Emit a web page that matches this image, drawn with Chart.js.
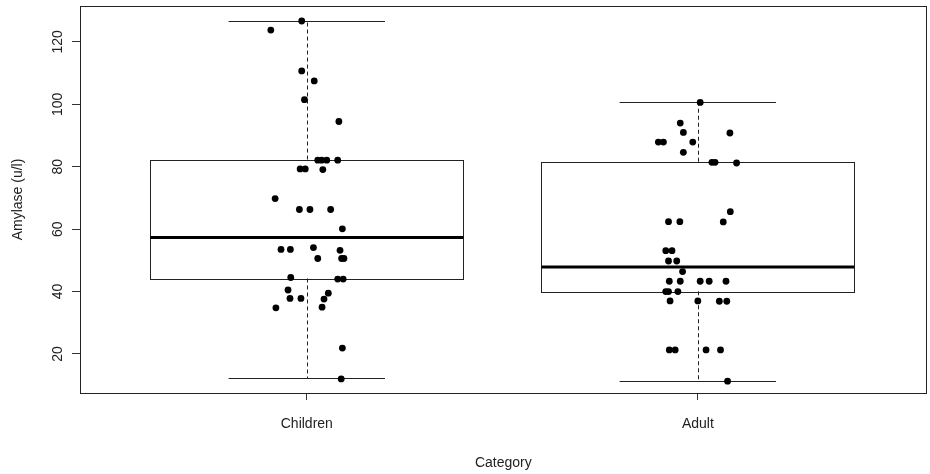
<!DOCTYPE html>
<html>
<head>
<meta charset="utf-8">
<script src="https://cdn.jsdelivr.net/npm/chart.js@4/dist/chart.umd.min.js"></script>
<style>
  html, body { margin: 0; padding: 0; background: #ffffff; }
  #wrap { width: 930px; height: 474px; position: relative; }
</style>
</head>
<body>
<div id="wrap"><canvas id="c" width="930" height="474"></canvas></div>
<script>
// ---- data ----
const categories = ['Children', 'Adult'];
const yTicks = [20, 40, 60, 80, 100, 120];

// box statistics per category
const lowWhiskers  = [12.2, 11.5];
const q1s          = [44.2, 40.1];
const medians      = [57.3, 47.9];
const q3s          = [82.3, 81.6];
const highWhiskers = [126.7, 100.6];

// jittered observations (value, horizontal jitter in category units)
const childrenValues = [126.7, 123.8, 110.7, 107.5, 101.5, 94.5, 82.1, 82.1, 82.1, 82.1,
  79.3, 79.3, 79.1, 69.8, 66.3, 66.3, 66.3, 60.1, 53.5, 53.5, 54.1, 53.2, 50.6, 50.6, 50.6,
  44.5, 44.0, 44.0, 40.5, 39.5, 37.8, 37.8, 37.6, 34.8, 35.0, 21.9, 12.0];
const childrenJitter = [-0.013, -0.092, -0.013, 0.019, -0.006, 0.082, 0.028, 0.038, 0.051, 0.079,
  -0.017, -0.004, 0.041, -0.081, -0.019, 0.008, 0.061, 0.091, -0.066, -0.042, 0.017, 0.085, 0.028, 0.089, 0.095,
  -0.041, 0.079, 0.093, -0.048, 0.055, -0.043, -0.015, 0.044, -0.079, 0.039, 0.091, 0.088];

const adultValues = [100.6, 94.0, 91.0, 90.8, 87.9, 87.9, 87.9, 84.6, 81.4, 81.4, 81.2,
  65.6, 62.4, 62.4, 62.3, 53.1, 53.1, 49.8, 49.8, 46.4, 43.3, 43.3, 43.3, 43.3, 43.3,
  40.0, 40.0, 40.0, 37.0, 37.0, 36.9, 36.9, 21.3, 21.3, 21.3, 21.3, 11.3];
const adultJitter = [0.006, -0.045, -0.037, 0.082, -0.101, -0.088, -0.013, -0.037, 0.036, 0.044, 0.099,
  0.083, -0.075, -0.046, 0.065, -0.082, -0.066, -0.075, -0.054, -0.039, -0.073, -0.045, 0.006, 0.029, 0.072,
  -0.082, -0.075, -0.051, -0.071, 0.000, 0.055, 0.074, -0.073, -0.058, 0.021, 0.058, 0.076];

// ---- build points ----
function toPoints(values, jitter, idx) {
  return values.map((v, k) => ({ x: idx + 1 + jitter[k], y: v }));
}
const allPoints = toPoints(childrenValues, childrenJitter, 0)
  .concat(toPoints(adultValues, adultJitter, 1));

const BOX_HALF = 0.4;
const CAP_HALF = 0.2;
const FONT = "'Liberation Sans', Arial, Helvetica, sans-serif";

const framePlugin = {
  id: 'frame',
  beforeDatasetsDraw(chart) {
    const { ctx, chartArea: a } = chart;
    ctx.save();
    ctx.strokeStyle = '#222';
    ctx.lineWidth = 1;
    ctx.strokeRect(Math.round(a.left) + 0.5, Math.round(a.top) + 0.5,
      Math.round(a.right - a.left) - 1, Math.round(a.bottom - a.top));
    ctx.restore();
  }
};

const boxPlugin = {
  id: 'boxes',
  beforeDatasetsDraw(chart) {
    const { ctx, scales: { x, y } } = chart;
    ctx.save();
    categories.forEach((c, i) => {
      const pos = i + 1;
      const xc = Math.round(x.getPixelForValue(pos)) + 0.5;
      const bl = x.getPixelForValue(pos - BOX_HALF);
      const br = x.getPixelForValue(pos + BOX_HALF);
      const cl = x.getPixelForValue(pos - CAP_HALF);
      const cr = x.getPixelForValue(pos + CAP_HALF);
      const yLo = y.getPixelForValue(lowWhiskers[i]);
      const yQ1 = y.getPixelForValue(q1s[i]);
      const yMed = y.getPixelForValue(medians[i]);
      const yQ3 = y.getPixelForValue(q3s[i]);
      const yHi = y.getPixelForValue(highWhiskers[i]);

      ctx.strokeStyle = '#222';
      ctx.lineWidth = 1;
      // dashed whiskers
      ctx.setLineDash([4, 3]);
      ctx.beginPath();
      ctx.moveTo(xc, yQ3); ctx.lineTo(xc, yHi);
      ctx.moveTo(xc, yQ1); ctx.lineTo(xc, yLo);
      ctx.stroke();
      ctx.setLineDash([]);
      // caps
      ctx.beginPath();
      ctx.moveTo(cl, Math.round(yHi) + 0.5); ctx.lineTo(cr, Math.round(yHi) + 0.5);
      ctx.moveTo(cl, Math.round(yLo) + 0.5); ctx.lineTo(cr, Math.round(yLo) + 0.5);
      ctx.stroke();
      // box
      ctx.strokeRect(Math.round(bl) + 0.5, Math.round(yQ3) + 0.5,
        Math.round(br - bl), Math.round(yQ1 - yQ3));
      // median
      ctx.lineWidth = 3;
      ctx.strokeStyle = '#000';
      ctx.beginPath();
      ctx.moveTo(bl, yMed); ctx.lineTo(br, yMed);
      ctx.stroke();
    });
    ctx.restore();
  }
};

new Chart(document.getElementById('c'), {
  type: 'scatter',
  data: {
    datasets: [{
      label: 'Amylase',
      data: allPoints,
      pointRadius: 3.4,
      pointHoverRadius: 3.4,
      pointBackgroundColor: '#000',
      pointBorderColor: '#000',
      pointBorderWidth: 0
    }]
  },
  options: {
    responsive: false,
    animation: false,
    devicePixelRatio: 1,
    layout: { padding: { top: 6, right: 3, left: 0, bottom: 0 } },
    plugins: {
      legend: { display: false },
      tooltip: { enabled: false },
      title: { display: false }
    },
    scales: {
      x: {
        type: 'linear',
        min: 0.42,
        max: 2.585,
        afterBuildTicks(scale) { scale.ticks = categories.map((c, i) => ({ value: i + 1 })); },
        afterFit(scale) { scale.height = 81; scale.paddingLeft = 0; scale.paddingRight = 0; },
        ticks: {
          callback: (v) => categories[Math.round(v) - 1] || '',
          color: '#222',
          font: { family: FONT, size: 14 },
          padding: 16,
          maxRotation: 0,
          autoSkip: false
        },
        grid: { display: true, drawOnChartArea: false, drawTicks: true, tickLength: 7, color: '#333' },
        border: { display: false },
        title: {
          display: true, text: 'Category', color: '#222',
          font: { family: FONT, size: 14 }, padding: { top: 2, bottom: 2 }
        }
      },
      y: {
        type: 'linear',
        min: 7.5,
        max: 131.5,
        afterBuildTicks(scale) { scale.ticks = yTicks.map(v => ({ value: v })); },
        afterFit(scale) { scale.width = 80; scale.paddingTop = 0; scale.paddingBottom = 0; },
        ticks: {
          color: '#222',
          font: { family: FONT, size: 14 },
          padding: 2,
          minRotation: 90,
          maxRotation: 90,
          crossAlign: 'center'
        },
        grid: { display: true, drawOnChartArea: false, drawTicks: true, tickLength: 8, color: '#333' },
        border: { display: false },
        title: {
          display: true, text: 'Amylase (u/l)', color: '#222',
          font: { family: FONT, size: 14 }, padding: { top: 10, bottom: 10 }
        }
      }
    }
  },
  plugins: [framePlugin, boxPlugin]
});
</script>
</body>
</html>
